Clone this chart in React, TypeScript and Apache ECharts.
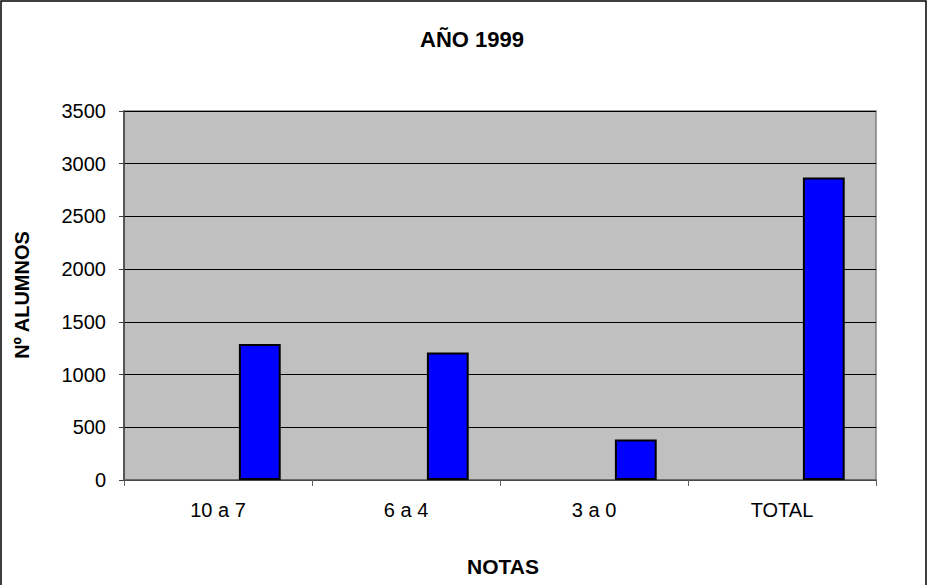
import React, { useEffect, useRef } from "react";
import * as echarts from "echarts";

const categories = ["10 a 7", "6 a 4", "3 a 0", "TOTAL"];
const emptySeriesA = [null, null, null, null];
const emptySeriesB = [null, null, null, null];
const alumnos = [1290, 1210, 385, 2870];
const titleText = "AÑO 1999";
const xName = "NOTAS";
const yName = "Nº ALUMNOS";

const FONT = "'Liberation Sans', Arial, sans-serif";

export default function App() {
  const ref = useRef<HTMLDivElement>(null);
  useEffect(() => {
    document.body.style.margin = "0";
    const chart = echarts.init(ref.current!, null, { renderer: "svg" });
    const barStyle = { color: "#0000FF", borderColor: "#000000", borderWidth: 2 };
    chart.setOption({
      animation: false,
      backgroundColor: "#ffffff",
      textStyle: { fontFamily: FONT },
      title: {
        text: titleText,
        left: 467,
        textAlign: "center",
        top: 23,
        textStyle: { fontFamily: FONT, fontWeight: "bold", fontSize: 22, color: "#000" },
      },
      graphic: [
        {
          type: "rect",
          shape: { x: 1, y: 1, width: 925, height: 600 },
          style: { fill: "none", stroke: "#000", lineWidth: 1.5 },
          silent: true,
        },
        {
          type: "text",
          x: 503,
          y: 566,
          style: {
            text: xName,
            font: `bold 21px ${FONT}`,
            fill: "#000",
            textAlign: "center",
            textVerticalAlign: "middle",
          },
        },
        {
          type: "text",
          x: 22,
          y: 295,
          rotation: Math.PI / 2,
          style: {
            text: yName,
            font: `bold 20px ${FONT}`,
            fill: "#000",
            textAlign: "center",
            textVerticalAlign: "middle",
          },
        },
      ],
      grid: {
        left: 124,
        right: 52,
        top: 111,
        bottom: 105,
        show: true,
        backgroundColor: "#C0C0C0",
        borderColor: "#808080",
        borderWidth: 1.5,
      },
      xAxis: {
        type: "category",
        data: categories,
        axisLine: { show: true, lineStyle: { color: "#606060", width: 1.5 } },
        axisTick: { show: true, length: 6, lineStyle: { color: "#606060" } },
        axisLabel: { fontFamily: FONT, fontSize: 20, color: "#000", margin: 20 },
        splitLine: { show: false },
      },
      yAxis: {
        type: "value",
        min: 0,
        max: 3500,
        interval: 500,
        axisLine: { show: true, lineStyle: { color: "#404040", width: 1.5 } },
        axisTick: { show: true, length: 5, lineStyle: { color: "#404040" } },
        axisLabel: {
          fontFamily: FONT,
          fontSize: 20,
          color: "#000",
          margin: 18,
          formatter: (v: number) => String(v),
        },
        splitLine: { show: true, lineStyle: { color: "#000", width: 1 } },
      },
      series: [
        { type: "bar", data: emptySeriesA, barGap: "0%", barCategoryGap: "33.3%", itemStyle: barStyle },
        { type: "bar", data: emptySeriesB, barGap: "0%", barCategoryGap: "33.3%", itemStyle: barStyle },
        { type: "bar", data: alumnos, barGap: "0%", barCategoryGap: "33.3%", itemStyle: barStyle },
      ],
    });
    return () => chart.dispose();
  }, []);
  return <div ref={ref} style={{ position: "absolute", left: 0, top: 0, width: 928, height: 585 }} />;
}
